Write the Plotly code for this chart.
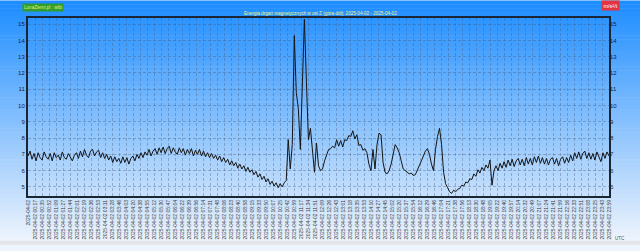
import plotly.graph_objects as go

# ---- data (5-minute samples from 00:00) ----
vals_a = [6.9, 7.2, 6.7, 7.05, 6.6, 7.1, 6.8, 6.65, 7.15, 6.85,
          6.7, 7.05, 6.6, 7.1, 6.8, 6.95, 6.65, 7.15, 6.8, 6.7,
          7.05, 6.85, 6.6, 6.95, 7.1, 6.75, 7.2, 6.85, 7.3, 6.95,
          6.8, 7.2, 7.3, 6.9, 7.15, 7.25, 6.8, 7.1, 6.75, 7.0,
          6.65, 6.9, 6.5, 6.85, 6.55]
vals_b = [6.75, 6.45, 6.85, 6.5, 6.8, 6.4, 6.75, 6.9, 6.6, 7.0,
          6.75, 7.1, 6.8, 7.15, 6.95, 7.3, 6.9, 7.2, 7.35, 7.0, 7.4]
vals_c = [7.1, 7.45, 7.05, 7.35, 7.5, 7.05, 7.4, 7.15, 7.0, 7.4,
          7.1, 7.35, 6.95, 7.3, 7.05, 7.35, 6.9, 7.25, 7.0, 7.3,
          6.9, 7.2, 6.85, 7.1, 6.8]
vals_d = [7.05, 6.75, 6.95, 6.65, 6.9, 6.55, 6.8, 6.5, 6.7, 6.35,
          6.6, 6.3, 6.5, 6.15, 6.4, 6.1, 6.3, 5.95, 6.2, 5.9]
vals_e = [6.05, 5.75, 5.95, 5.6, 5.8, 5.45, 5.65, 5.3, 5.5, 5.15,
          5.35, 5.05, 5.25, 4.95, 5.2, 5.0, 5.25]
vals_f = [5.4, 7.9, 6.1, 7.6, 14.3, 10.8, 9.8, 7.3, 12.0, 15.3,
          11.5, 7.9, 8.6, 7.0, 5.9, 7.7, 6.3, 6.0, 6.1, 6.6,
          7.0, 7.3, 7.35, 7.5, 7.4, 7.9, 7.5, 7.85, 7.45, 7.9,
          7.85, 8.15, 8.1, 8.45, 7.95, 8.2, 7.55, 7.6, 7.25, 7.35,
          7.1, 6.4, 6.0, 7.3, 6.1, 7.6, 8.3, 8.2, 6.5, 5.9,
          5.8, 6.0, 6.4, 7.0, 7.6, 7.4, 7.1, 6.6, 6.1, 6.0,
          5.9, 5.8, 5.85, 5.7, 5.75, 6.0, 6.35, 6.6, 6.9, 7.2,
          7.35, 7.0, 6.4, 6.0, 7.3, 8.1, 8.6, 7.6, 5.9, 5.2,
          4.95, 4.7, 4.6, 4.8, 4.7, 4.85, 4.9, 5.1, 5.05, 5.3,
          5.25, 5.5, 5.45, 5.8, 5.65, 6.05, 5.85, 6.2, 6.0, 6.35,
          6.15, 6.65, 5.1]
vals_g = [6.0, 6.3, 6.0, 6.45, 6.15, 6.55, 6.2, 6.65, 6.3, 6.7,
          6.25, 6.6, 6.75, 6.35, 6.7, 6.3, 6.8, 6.4, 6.75, 6.35,
          6.85, 6.5, 6.9, 6.45, 6.8, 6.4, 6.75, 6.35, 6.7, 6.8,
          6.4, 6.75, 6.3, 6.7, 6.85, 6.45, 6.8, 6.5, 6.95, 6.6,
          7.1, 6.75, 7.15, 6.7, 7.05, 7.2, 6.75, 7.1, 6.7, 7.05,
          6.65, 7.15, 6.8, 6.55, 7.1, 6.75, 7.15, 6.9]
energy = vals_a + vals_b + vals_c + vals_d + vals_e + vals_f + vals_g
minutes = [i * 5 for i in range(len(energy))]

day = "2025-04-02"
n_ticks = 84
tick_minutes = [k * 1440 / (n_ticks - 1) for k in range(n_ticks)]
tick_labels = []
for k, m in enumerate(tick_minutes):
    mm = min(int(round(m)), 1439)
    if k == 0:
        tick_labels.append(day)
    else:
        tick_labels.append(f"{day} {mm // 60:02d}:{mm % 60:02d}")
y_ticks = list(range(5, 16))

title_text = "Energia drgań magnetycznych w osi Z (góra-dół): 2025-04-02 - 2025-04-02"
brand_text = "LunaZiemi.pl : wibi"
unit_text = "m/s²/t"

# ---- layout geometry ----
W, H = 640, 251
ML, MR, MT, MB = 28, 31, 18, 50
PH = H - MT - MB
PW = W - ML - MR

def py(p):  # pixel row -> paper y
    return (H - MB - p) / PH

def px(p):  # pixel col -> paper x
    return (p - ML) / PW

FONT = "Liberation Sans"

fig = go.Figure()
fig.add_trace(go.Scatter(x=minutes, y=energy, mode="lines",
                         line=dict(color="#151515", width=1),
                         showlegend=False, hoverinfo="skip"))
fig.add_trace(go.Scatter(x=minutes, y=energy, mode="lines", yaxis="y2",
                         line=dict(color="rgba(0,0,0,0)", width=0),
                         showlegend=False, hoverinfo="skip"))

# background gradient (paper coordinates, drawn under the grid)
shapes = []
top = (28, 140, 255)
bot = (238, 244, 252)
n = 62
for k in range(n):
    y0p = k * 247 / n
    y1p = (k + 1) * 247 / n
    t = (k + 0.5) / n
    c = tuple(int(round(top[j] + (bot[j] - top[j]) * t)) for j in range(3))
    shapes.append(dict(type="rect", xref="paper", yref="paper",
                       x0=px(0), x1=px(W), y0=py(y1p + 0.5), y1=py(y0p),
                       fillcolor=f"rgb{c}", line=dict(width=0), layer="below"))
shapes.append(dict(type="rect", xref="paper", yref="paper",
                   x0=px(0), x1=px(W), y0=py(H), y1=py(247),
                   fillcolor="#e3e5e8", line=dict(width=0), layer="below"))

axis_font = dict(family=FONT, size=6, color="#222222")
grid = dict(showgrid=True, gridcolor="rgba(70,90,120,0.38)", gridwidth=1,
            griddash="3px,2px")

fig.update_layout(
    width=W, height=H,
    margin=dict(l=ML, r=MR, t=MT, b=MB, pad=0),
    paper_bgcolor="rgb(238,244,252)",
    plot_bgcolor="rgba(0,0,0,0)",
    shapes=shapes,
    xaxis=dict(range=[0, 1440], tickmode="array", tickvals=tick_minutes,
               ticktext=tick_labels, tickangle=-90,
               tickfont=dict(family=FONT, size=5, color="#3a3a3a"),
               showline=True, mirror=True, linecolor="#1b2635", linewidth=2,
               ticks="", zeroline=False, **grid),
    yaxis=dict(range=[4.44, 15.38], tickmode="array", tickvals=y_ticks,
               tickfont=axis_font, showline=True, mirror=True,
               linecolor="#1b2635", linewidth=2, ticks="", zeroline=False,
               **grid),
    yaxis2=dict(range=[4.44, 15.38], tickmode="array", tickvals=y_ticks,
                tickfont=axis_font, overlaying="y", side="right",
                showgrid=False, zeroline=False, showline=False, ticks=""),
    annotations=[
        dict(text=title_text, xref="paper", yref="paper", x=px(320), y=py(13),
             showarrow=False, font=dict(family=FONT, size=4.6, color="#f2f27a"),
             xanchor="center", yanchor="middle"),
        dict(text=brand_text, xref="paper", yref="paper", x=px(42.5), y=py(7),
             showarrow=False, font=dict(family=FONT, size=4.6, color="#f0f060"),
             bgcolor="#2f9d2f", borderpad=1, xanchor="center", yanchor="middle"),
        dict(text=unit_text, xref="paper", yref="paper", x=px(610), y=py(5.5),
             showarrow=False, font=dict(family=FONT, size=5.5, color="#ffffff"),
             bgcolor="#e3343f", borderpad=1.5, xanchor="center", yanchor="middle"),
        dict(text="UTC", xref="paper", yref="paper", x=px(620), y=py(245),
             showarrow=False, font=dict(family=FONT, size=4.5, color="#555555"),
             xanchor="center", yanchor="middle"),
    ],
)

fig.write_html("out.html")
